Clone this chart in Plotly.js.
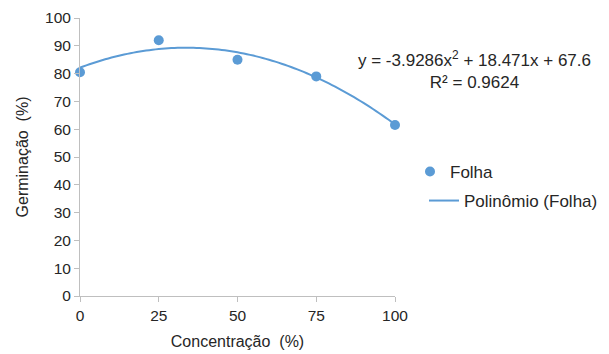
<!DOCTYPE html>
<html><head><meta charset="utf-8">
<script src="https://cdn.plot.ly/plotly-3.0.1.min.js"></script>
<style>html,body{margin:0;padding:0;background:#fff}#c{width:609px;height:354px}</style>
</head><body><div id="c"></div>
<script>
const concentracao = [0, 25, 50, 75, 100];
const germinacao = [80.5, 92, 85, 79, 61.5];
const xTicks = [0, 25, 50, 75, 100];
const yTicks = [0, 10, 20, 30, 40, 50, 60, 70, 80, 90, 100];
// trendline coefficients as printed on chart (x = point index 1..5)
const polyCoef = [-3.9286, 18.471, 67.6];

const fitX = [], fitY = [];
for (let i = 0; i <= 100; i++) {
  const c = i;
  const k = c / 25 + 1;
  fitX.push(c);
  fitY.push(polyCoef[0] * k * k + polyCoef[1] * k + polyCoef[2]);
}
const col = '#5B9BD5';
const fam = 'Liberation Sans, Arial, sans-serif';
const tickFont = {family: fam, size: 15.5, color: '#262626'};
const titleFont = {family: fam, size: 16, color: '#262626'};
const legFont = {family: fam, size: 17, color: '#262626'};
const data = [
  {x: concentracao, y: germinacao, type: 'scatter', mode: 'markers', name: 'Folha',
   marker: {color: col, size: 10}, legend: 'legend', cliponaxis: false},
  {x: fitX, y: fitY, type: 'scatter', mode: 'lines', name: 'Polinômio (Folha)',
   line: {color: col, width: 2, simplify: false}, legend: 'legend2'}
];
const W = 609, H = 354, L = 80, R = 214, PW = W - L - R;
const layout = {
  width: W, height: H,
  margin: {l: L, r: R, t: 18, b: 58},
  paper_bgcolor: '#fff', plot_bgcolor: '#fff',
  font: tickFont,
  showlegend: true,
  xaxis: {range: [0, 100], tickvals: xTicks, ticktext: xTicks.map(String),
    showgrid: false, zeroline: false, showline: true, linecolor: '#BFBFBF', linewidth: 1,
    ticks: 'outside', ticklen: 5, tickcolor: '#BFBFBF', tickfont: tickFont,
    title: {text: 'Concentração  (%)', font: titleFont, standoff: 13}},
  yaxis: {range: [0, 100], tickvals: yTicks, ticktext: yTicks.map(String),
    showgrid: false, zeroline: false, showline: true, linecolor: '#BFBFBF', linewidth: 1,
    ticks: 'outside', ticklen: 5, tickcolor: '#BFBFBF', tickfont: tickFont,
    title: {text: 'Germinação  (%)', font: titleFont, standoff: 12}},
  legend: {xref: 'container', yref: 'container', x: 410 / W, xanchor: 'left',
    y: 1 - 172 / H, yanchor: 'middle',
    font: legFont, bgcolor: 'rgba(0,0,0,0)', itemwidth: 30},
  legend2: {xref: 'container', yref: 'container', x: 424 / W, xanchor: 'left',
    y: 1 - 201 / H, yanchor: 'middle',
    font: legFont, bgcolor: 'rgba(0,0,0,0)', itemwidth: 30},
  annotations: [{xref: 'paper', yref: 'paper', x: (474 - L) / PW, y: (296 - 70) / 278,
    xanchor: 'center', yanchor: 'middle', showarrow: false, align: 'center',
    text: 'y = -3.9286x<sup>2</sup> + 18.471x + 67.6<br>R² = 0.9624',
    font: legFont}]
};
Plotly.newPlot('c', data, layout, {displayModeBar: false, staticPlot: true});
</script></body></html>
